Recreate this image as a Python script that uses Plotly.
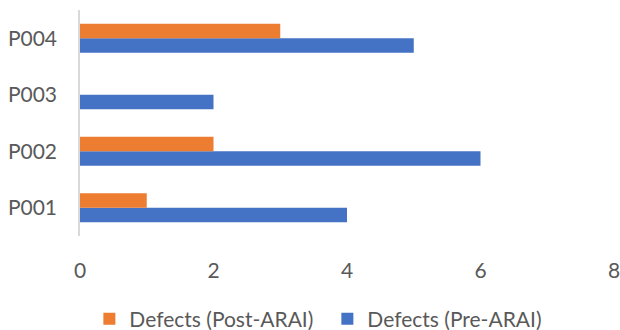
import plotly.graph_objects as go

categories = ["P001", "P002", "P003", "P004"]
pre_arai = [4, 6, 2, 5]
post_arai = [1, 2, 0, 3]
x_ticks = [0, 2, 4, 6, 8]

FONT = "Lato, 'Open Sans', sans-serif"
TXT = "#595959"
FS = 21

fig = go.Figure()
fig.add_trace(go.Bar(
    y=categories, x=pre_arai, orientation="h",
    name="Defects (Pre-ARAI)", marker_color="#4472C4",
    marker_line_width=0, legendrank=2,
))
fig.add_trace(go.Bar(
    y=categories, x=post_arai, orientation="h",
    name="Defects (Post-ARAI)", marker_color="#ED7D31",
    marker_line_width=0, legendrank=1,
))

fig.update_layout(
    width=620, height=330,
    margin=dict(l=80, r=6, t=10, b=94, autoexpand=False),
    paper_bgcolor="white", plot_bgcolor="white",
    barmode="group", bargap=0.49, bargroupgap=0,
    font=dict(family=FONT, size=FS, color=TXT),
    showlegend=True,
    legend=dict(
        orientation="h", xref="container", yref="container",
        x=0.528, xanchor="center", y=0.033, yanchor="middle",
        font=dict(family=FONT, size=FS, color=TXT),
        itemwidth=30, traceorder="normal", entrywidth=193,
    ),
    xaxis=dict(
        range=[0, 8], tickvals=x_ticks, showgrid=False, zeroline=False,
        showline=False, ticks="", ticklabelstandoff=20, automargin=False,
        ticklabeloverflow="allow",
        tickfont=dict(family=FONT, size=FS, color=TXT),
    ),
    yaxis=dict(
        showgrid=False, zeroline=False, showline=True,
        linecolor="#D9D9D9", linewidth=1.5, ticks="", automargin=False,
        ticklabelstandoff=17,
        tickfont=dict(family=FONT, size=FS, color=TXT),
    ),
)

fig.write_html(
    "out.html",
    config={"displayModeBar": False},
    post_script="document.body.style.margin='0';"
                "document.documentElement.style.overflow='hidden';",
)
